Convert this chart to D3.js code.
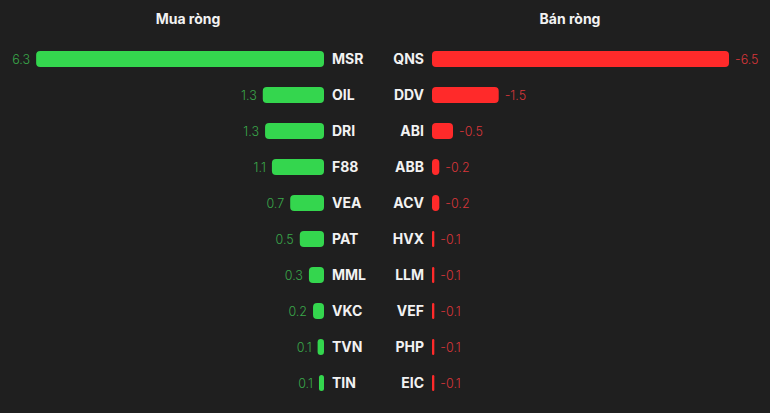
<!DOCTYPE html>
<html><head><meta charset="utf-8">
<script src="https://cdn.jsdelivr.net/npm/d3@7/dist/d3.min.js"></script>
<style>
html,body{margin:0;padding:0;background:#1f1f1f;}
svg{display:block;}
text{font-family:Inter,"Noto Sans",sans-serif;}
</style></head>
<body>
<svg id="c" width="770" height="413"></svg>
<script>
const buyTickers = ["MSR","OIL","DRI","F88","VEA","PAT","MML","VKC","TVN","TIN"];
const buyValues  = [6.3, 1.34, 1.29, 1.14, 0.74, 0.53, 0.33, 0.24, 0.14, 0.11];
const sellTickers = ["QNS","DDV","ABI","ABB","ACV","HVX","LLM","VEF","PHP","EIC"];
const sellValues  = [-6.5, -1.46, -0.46, -0.16, -0.16, -0.051, -0.051, -0.051, -0.051, -0.051];
const titles = ["Mua ròng","Bán ròng"];

const svg = d3.select("#c");
svg.append("rect").attr("width",770).attr("height",413).attr("fill","#1f1f1f");

const fmt = d3.formatLocale({decimal:".", thousands:",", grouping:[3], currency:["",""], minus:"-"}).format(".1f");
const len = d3.scaleLinear().domain([0, 6.5]).range([0, 297]);
const yL = d3.scaleBand().domain(buyTickers).range([41, 401]).paddingInner(20/36).paddingOuter(10/36);
const yR = d3.scaleBand().domain(sellTickers).range([41, 401]).paddingInner(20/36).paddingOuter(10/36);

const leftEnd = 324, rightStart = 432;

svg.append("text").attr("x",188).attr("y",24).attr("text-anchor","middle")
  .attr("fill","#f2f2f2").attr("font-size",14).attr("font-weight",700).text(titles[0]);
svg.append("text").attr("x",570).attr("y",24).attr("text-anchor","middle")
  .attr("fill","#f2f2f2").attr("font-size",14).attr("font-weight",700).text(titles[1]);

const buy = buyTickers.map((t,i)=>({t, v: buyValues[i]}));
const sell = sellTickers.map((t,i)=>({t, v: sellValues[i]}));

const gL = svg.append("g");
gL.selectAll("rect").data(buy).join("rect")
  .attr("x", d => leftEnd - len(d.v)).attr("y", d => yL(d.t))
  .attr("width", d => len(d.v)).attr("height", yL.bandwidth())
  .attr("rx", d => Math.min(4, len(d.v)/2)).attr("fill","#34d64e");
gL.selectAll("text.tk").data(buy).join("text").attr("class","tk")
  .attr("x", leftEnd + 8).attr("y", d => yL(d.t) + yL.bandwidth()/2)
  .attr("dy","0.36em").attr("fill","#f2f2f2").attr("font-size",14).attr("font-weight",700)
  .text(d => d.t);
gL.selectAll("text.val").data(buy).join("text").attr("class","val")
  .attr("x", d => leftEnd - len(d.v) - 6).attr("y", d => yL(d.t) + yL.bandwidth()/2)
  .attr("dy","0.36em").attr("text-anchor","end").attr("fill","#3aa84a").attr("font-size",12.5).attr("font-weight",300)
  .text(d => fmt(d.v));

const gR = svg.append("g");
gR.selectAll("rect").data(sell).join("rect")
  .attr("x", rightStart).attr("y", d => yR(d.t))
  .attr("width", d => Math.max(2, len(-d.v))).attr("height", yR.bandwidth())
  .attr("rx", d => Math.min(4, Math.max(2,len(-d.v))/2)).attr("fill","#ff2a2a");
gR.selectAll("text.tk").data(sell).join("text").attr("class","tk")
  .attr("x", rightStart - 8).attr("y", d => yR(d.t) + yR.bandwidth()/2)
  .attr("dy","0.36em").attr("text-anchor","end").attr("fill","#f2f2f2").attr("font-size",14).attr("font-weight",700)
  .text(d => d.t);
gR.selectAll("text.val").data(sell).join("text").attr("class","val")
  .attr("x", d => rightStart + Math.max(2, len(-d.v)) + 6).attr("y", d => yR(d.t) + yR.bandwidth()/2)
  .attr("dy","0.36em").attr("fill","#d8363a").attr("font-size",12.5).attr("font-weight",300)
  .text(d => fmt(d.v));
</script>
</body></html>
